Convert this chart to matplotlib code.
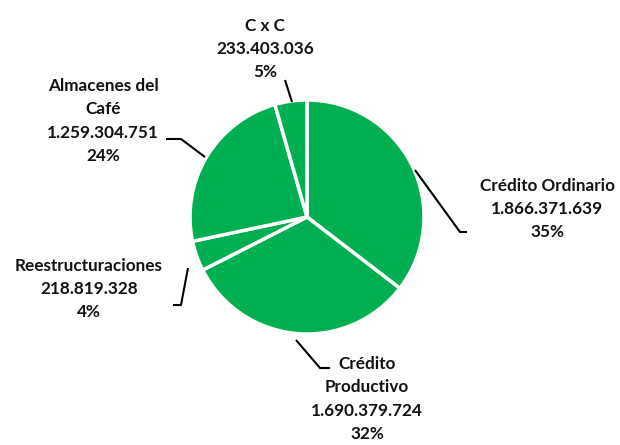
import matplotlib
matplotlib.use("Agg")
import matplotlib.pyplot as plt

categories = ["Crédito Ordinario", "Crédito\nProductivo", "Reestructuraciones", "Almacenes del\nCafé", "C x C"]
values = [1866371639, 1690379724, 218819328, 1259304751, 233403036]
value_labels = ["1.866.371.639", "1.690.379.724", "218.819.328", "1.259.304.751", "233.403.036"]
pct_labels = ["35%", "32%", "4%", "24%", "5%"]

W, H = 620, 445
fig = plt.figure(figsize=(W / 100, H / 100), dpi=100)
ax = fig.add_axes([0, 0, 1, 1])

def Y(y):
    return H - y

cx, cy, r = 307, Y(217), 117
ax.pie(values, startangle=90, counterclock=False, colors=["#00B050"] * len(values),
       center=(cx, cy), radius=r,
       wedgeprops=dict(edgecolor="white", linewidth=2.5))
ax.set_xlim(0, W)
ax.set_ylim(0, H)
ax.set_aspect("equal")
ax.axis("off")

# label block positions (image coords) and leader lines
text_pos = [(547, 209), (367, 399), (89, 289), (103, 121), (265, 49)]
leaders = [
    [(415, 170), (460, 232), (467, 232)],
    [(296, 340), (320, 368), (330, 368)],
    [(188, 268), (181, 305), (173, 305)],
    [(205, 157), (181, 139), (166, 139)],
    [(292, 102), (285, 80)],
]
for i in range(len(values)):
    txt = f"{categories[i]}\n{value_labels[i]}\n{pct_labels[i]}"
    x, y = text_pos[i]
    ax.text(x, Y(y), txt, ha="center", va="center", fontsize=12.3,
            fontfamily="Lato", fontweight="bold", linespacing=1.56, color="#111111")
    pts = leaders[i]
    ax.plot([p[0] for p in pts], [Y(p[1]) for p in pts], color="black", lw=1.5,
            solid_capstyle="butt")

fig.savefig("out.png", dpi=100)
